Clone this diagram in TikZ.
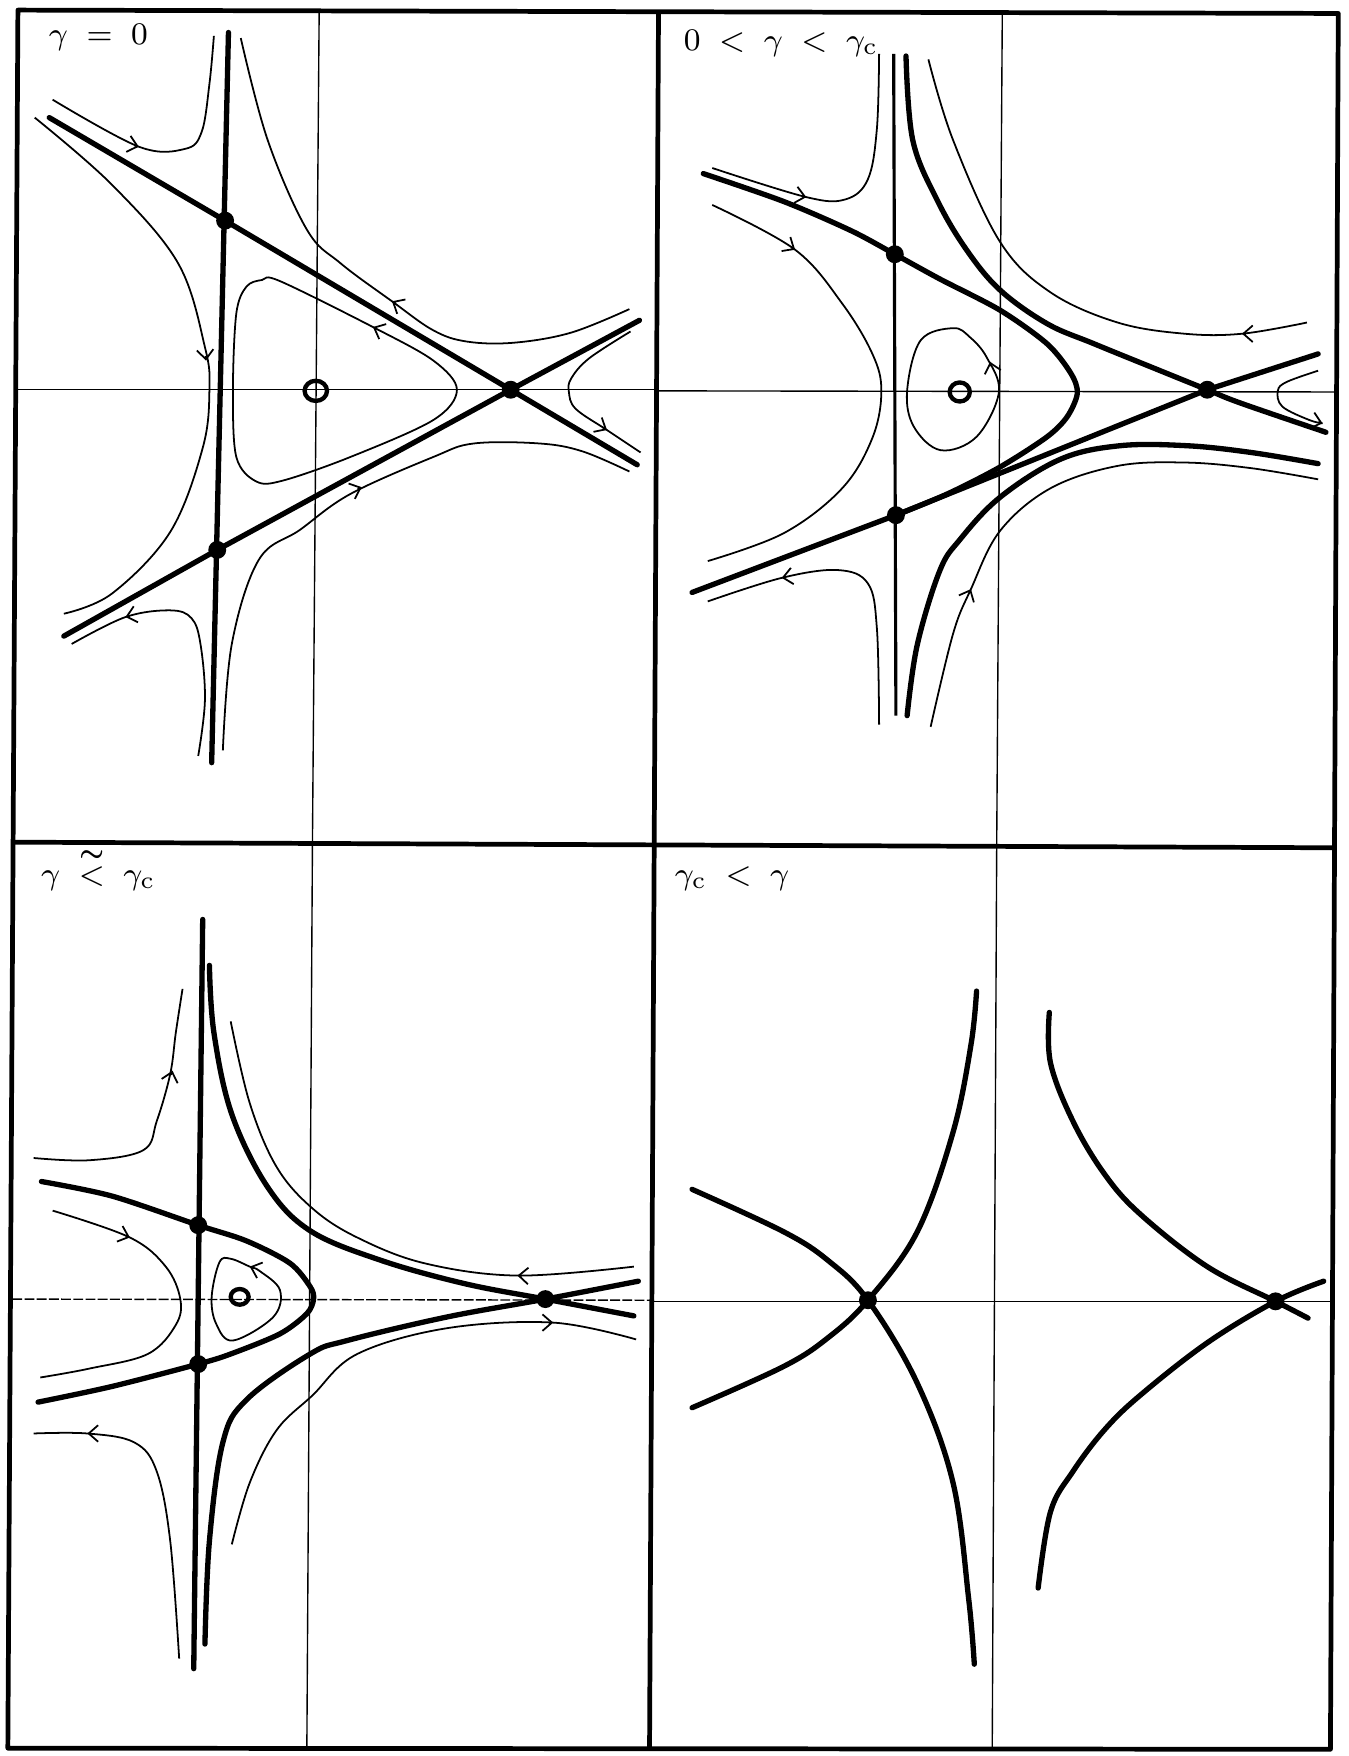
\documentclass[tikz,border=0pt]{standalone}
\usepackage{amsmath}
\usepackage{tikz}
\usetikzlibrary{arrows.meta, shapes.geometric}

\begin{document}
\begin{tikzpicture}[
  x=0.1mm, y=-0.1mm,
  panelframe/.style={line width=1.2pt, line join=round},
  axisline/.style={line width=0.35pt},
  separatrix/.style={line width=1.35pt, line cap=round, line join=round},
  midline/.style={line width=0.8pt},
  orbit/.style={line width=0.45pt},
  fixpt/.style={circle, fill, inner sep=0pt, minimum size=1.6mm},
  centre/.style={ellipse, draw, line width=1.1pt, inner sep=0pt, minimum width=2mm, minimum height=1.8mm},
  lbl/.style={anchor=base west, inner sep=0pt, font=\fontsize{8.5}{10}\selectfont},
  flowtip/.pic={\draw[orbit, -{Straight Barb[length=2.4pt, width=4.2pt]}] (-4,0) -- (0,0);}
]
\useasboundingbox (0,0) rectangle (1204,1568);

\draw[panelframe] (16,9) -- (1195,12) -- (1188,1562) -- (7,1561) -- cycle;
\draw[panelframe] (588,11) -- (580,1561);
\draw[panelframe] (12,752) -- (1191,757);

\node[lbl] (t1) at (43,40) {$\gamma\;=\;0$};
\node[lbl] (t2) at (610,45) {$0\;<\;\gamma\;<\;\gamma_{\mathrm{c}}$};
\node[lbl] (t3) at (36,790) {$\gamma\;\overset{\boldsymbol{\sim}}{<}\;\gamma_{\mathrm{c}}$};
\node[lbl] (t4) at (602,790) {$\gamma_{\mathrm{c}}\;<\;\gamma$};

% gamma = 0
\coordinate (a1) at (201,197);
\coordinate (b1) at (194,491);
\coordinate (c1) at (456,348);
\draw[axisline] (16,348) -- (588,348);
\draw[axisline] (285,10) -- (279,752);
\draw[separatrix] (204,29) -- (189,681);
\draw[separatrix] (44,105) -- (a1) -- (c1) -- (569,415);
\draw[separatrix] (57,568) -- (b1) -- (c1) -- (571,286);
\draw[orbit] plot[smooth, tension=0.6] coordinates {(47,89) (124,131) (165,133) (180,118) (187,75) (191,32)};
\draw[orbit] plot[smooth, tension=0.6] coordinates {(31,105) (100,165) (159,235) (183,310) (187,348) (181,400) (152,475) (100,530) (57,548)};
\draw[orbit] plot[smooth, tension=0.6] coordinates {(215,34) (239,125) (274,205) (304,235) (350,269) (387,295) (417,305) (459,306) (510,297) (562,276)};
\draw[orbit] plot[smooth cycle, tension=0.55] coordinates {(408,348) (387,322) (333,292) (250,251) (234,250) (220,256) (211,280) (208,348) (211,408) (229,430) (253,429) (313,408) (387,375)};
\draw[orbit] plot[smooth, tension=0.6] coordinates {(64,575) (112,551) (152,545) (171,552) (179,575) (183,625) (177,675)};
\draw[orbit] plot[smooth, tension=0.6] coordinates {(199,670) (207,575) (231,500) (268,473) (313,441) (387,408) (423,396) (482,396) (520,403) (562,421)};
\draw[orbit] plot[smooth, tension=0.6] coordinates {(563,296) (526,320) (510,338) (508,350) (514,365) (542,384) (572,404)};
\pic[rotate=-15] at (124,131) {flowtip};
\pic[rotate=-85] at (184,322) {flowtip};
\pic[rotate=150] at (350,269) {flowtip};
\pic[rotate=155] at (333,292) {flowtip};
\pic[rotate=-165] at (112,551) {flowtip};
\pic[rotate=22] at (323,435) {flowtip};
\pic[rotate=-30] at (542,384) {flowtip};
\node[centre] (o1) at (282,349) {};

% 0 < gamma < gamma_c
\coordinate (a2) at (799,227);
\coordinate (b2) at (800,460);
\coordinate (c2) at (1078,348);
\draw[axisline] (588,349) -- (1192,350);
\draw[axisline] (895,10) -- (890,754);
\draw[midline] (798,48) -- (800,639);
\draw[separatrix] plot[smooth, tension=0.5] coordinates {(628,155) (700,180) (760,206) (799,227) (839,249) (893,277) (935,307) (956,333) (962,351) (953,372) (935,390) (893,417) (846,441) (800,460)};
\draw[separatrix] (618,529) -- (b2) -- (c2) -- (1177,316);
\draw[separatrix] plot[smooth, tension=0.6] coordinates {(809,50) (815,125) (837,179) (863,223) (893,259) (935,289) (977,307) (1036,331) (1078,348) (1108,360) (1184,386)};
\draw[separatrix] plot[smooth, tension=0.6] coordinates {(810,639) (819,576) (839,510) (857,482) (893,444) (947,410) (1000,398) (1060,398) (1117,404) (1177,414)};
\draw[orbit] plot[smooth, tension=0.6] coordinates {(636,150) (720,176) (755,178) (775,160) (783,115) (785,48)};
\draw[orbit] plot[smooth, tension=0.6] coordinates {(636,183) (710,223) (752,271) (779,316) (787,349) (779,391) (752,436) (700,476) (632,501)};
\draw[orbit] plot[smooth, tension=0.6] coordinates {(632,537) (698,516) (748,509) (775,521) (783,561) (785,647)};
\draw[orbit] plot[smooth, tension=0.6] coordinates {(829,53) (851,125) (893,216) (938,261) (998,288) (1058,298) (1109,298) (1167,288)};
\draw[orbit] plot[smooth, tension=0.6] coordinates {(831,649) (851,566) (867,526) (893,474) (938,436) (998,416) (1058,413) (1117,418) (1177,428)};
\draw[orbit] plot[smooth, tension=0.6] coordinates {(1177,331) (1149,341) (1141,349) (1145,363) (1169,375) (1181,378)};
\draw[orbit] plot[smooth cycle, tension=0.6] coordinates {(810,349) (816,381) (840,402) (872,390) (892,350) (881,319) (866,301) (851,293) (822,304)};
\pic[rotate=-12] at (720,176) {flowtip};
\pic[rotate=-32] at (710,223) {flowtip};
\pic[rotate=-170] at (698,516) {flowtip};
\pic[rotate=180] at (1109,298) {flowtip};
\pic[rotate=65] at (867,526) {flowtip};
\pic[rotate=-15] at (1181,378) {flowtip};
\pic[rotate=105] at (884,323) {flowtip};
\node[centre, minimum width=1.8mm, minimum height=1.7mm] (o2) at (857,350) {};

% gamma slightly below gamma_c
\coordinate (a3) at (177,1094);
\coordinate (b3) at (177,1218);
\coordinate (c3) at (487,1160);
\draw[axisline, dash pattern=on 2.5pt off 0.6pt] (11,1160) -- (584,1161);
\draw[axisline] (279,753) -- (274,1561);
\draw[separatrix] (181,821) -- (173,1490);
\draw[separatrix] plot[smooth, tension=0.5] coordinates {(37,1055) (100,1068) (177,1094) (220,1108) (259,1128) (277,1149) (280,1160) (274,1173) (250,1191) (206,1209) (177,1218) (100,1238) (34,1252)};
\draw[separatrix] plot[smooth, tension=0.6] coordinates {(187,862) (191,922) (207,995) (239,1060) (277,1099) (339,1125) (414,1146) (487,1160) (566,1175)};
\draw[separatrix] plot[smooth, tension=0.6] coordinates {(183,1468) (187,1376) (199,1288) (220,1250) (277,1209) (310,1197) (399,1176) (487,1160) (570,1144)};
\draw[orbit] plot[smooth, tension=0.6] coordinates {(30,1034) (80,1036) (128,1027) (140,1001) (152,959) (157,922) (163,883)};
\draw[orbit] plot[smooth, tension=0.6] coordinates {(47,1081) (116,1105) (148,1131) (161,1160) (157,1183) (132,1209) (80,1222) (36,1230)};
\draw[orbit] plot[smooth, tension=0.6] coordinates {(30,1280) (78,1280) (120,1288) (140,1314) (152,1376) (160,1481)};
\draw[orbit] plot[smooth, tension=0.6] coordinates {(206,912) (223,985) (247,1042) (279,1079) (319,1105) (379,1128) (462,1139) (566,1131)};
\draw[orbit] plot[smooth, tension=0.6] coordinates {(207,1379) (223,1324) (247,1277) (279,1246) (319,1209) (399,1186) (494,1181) (568,1196)};
\draw[orbit] plot[smooth cycle, tension=0.6] coordinates {(189,1158) (196,1127) (206,1124) (223,1131) (232,1135) (250,1152) (244,1176) (208,1197) (193,1182)};
\pic[rotate=75] at (154,956) {flowtip};
\pic[rotate=-20] at (116,1105) {flowtip};
\pic[rotate=180] at (78,1280) {flowtip};
\pic[rotate=178] at (462,1139) {flowtip};
\pic[rotate=0] at (494,1181) {flowtip};
\pic[rotate=160] at (223,1131) {flowtip};
\node[centre, minimum width=1.6mm, minimum height=1.4mm] (o3) at (214,1158) {};

% gamma_c < gamma
\coordinate (d1) at (775,1161);
\coordinate (d2) at (1139,1162);
\draw[axisline] (584,1162) -- (1189,1162);
\draw[axisline] (890,755) -- (886,1562);
\draw[separatrix] plot[smooth, tension=0.6] coordinates {(618,1062) (700,1100) (740,1126) (775,1161) (819,1235) (851,1324) (865,1428) (870,1486)};
\draw[separatrix] plot[smooth, tension=0.6] coordinates {(618,1257) (700,1220) (740,1194) (775,1161) (819,1100) (851,1011) (867,933) (872,885)};
\draw[separatrix] plot[smooth, tension=0.6] coordinates {(937,904) (938,949) (958,1001) (986,1048) (1018,1084) (1078,1131) (1139,1162) (1168,1177)};
\draw[separatrix] plot[smooth, tension=0.6] coordinates {(927,1418) (938,1350) (958,1314) (986,1277) (1018,1246) (1078,1199) (1139,1162) (1182,1144)};

\foreach \p in {a1,b1,c1,a2,b2,c2,a3,b3,c3,d1,d2}
  \node[fixpt] at (\p) {};
\end{tikzpicture}
\end{document}
